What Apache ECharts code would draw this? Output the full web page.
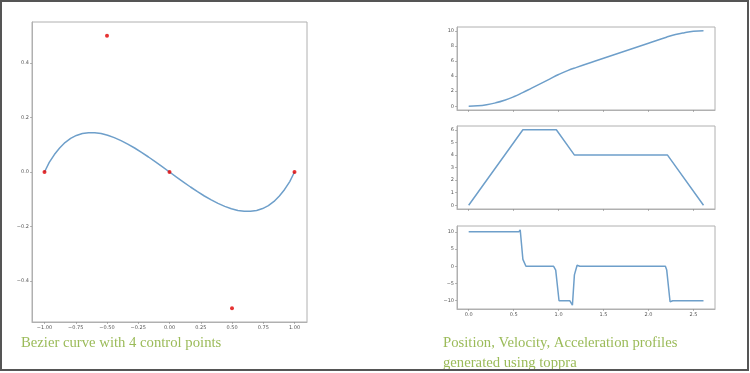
<!DOCTYPE html>
<html>
<head>
<meta charset="utf-8">
<script src="https://cdn.jsdelivr.net/npm/echarts@6/dist/echarts.min.js"></script>
<style>html,body{margin:0;padding:0;background:#fff}#c{width:750px;height:373px}</style>
</head>
<body>
<div id="c"></div>
<script>
// Bezier curve samples
const bezX = [-1, -0.962, -0.921, -0.879, -0.836, -0.791, -0.745, -0.697, -0.648, -0.598, -0.547, -0.495, -0.442, -0.388, -0.334, -0.279, -0.224, -0.168, -0.112, -0.056, 0,
              0.056, 0.112, 0.168, 0.224, 0.279, 0.334, 0.388, 0.442, 0.495, 0.547, 0.598, 0.648, 0.697, 0.745, 0.791, 0.836, 0.879, 0.921, 0.962, 1];
const bezY = [0, 0.035, 0.064, 0.088, 0.108, 0.123, 0.134, 0.141, 0.144, 0.144, 0.141, 0.135, 0.126, 0.115, 0.102, 0.088, 0.072, 0.055, 0.037, 0.019, 0,
              -0.019, -0.037, -0.055, -0.072, -0.088, -0.102, -0.115, -0.126, -0.135, -0.141, -0.144, -0.144, -0.141, -0.134, -0.123, -0.108, -0.088, -0.064, -0.035, 0];
// Control points
const ctrlX = [-1, -0.5, 0, 0.5, 1];
const ctrlY = [0, 0.5, 0, -0.5, 0];
// Position profile
const posT = [0, 0.1, 0.2, 0.3, 0.4, 0.5, 0.6, 0.7, 0.8, 0.9, 1.0, 1.1, 1.2, 1.4, 1.6, 1.8, 2.0, 2.2, 2.3, 2.4, 2.5, 2.612];
const posV = [0, 0.05, 0.2, 0.45, 0.8, 1.25, 1.8, 2.4, 3.0, 3.6, 4.2, 4.72, 5.15, 5.95, 6.75, 7.55, 8.35, 9.15, 9.5, 9.75, 9.93, 10.0];
// Velocity profile
const velT = [0, 0.603, 0.975, 1.175, 2.21, 2.612];
const velV = [0, 6, 6, 4, 4, 0];
// Acceleration profile
const accT = [0, 0.558, 0.573, 0.603, 0.637, 0.945, 0.968, 1.005, 1.124, 1.154, 1.176, 1.206, 1.236, 2.188, 2.203, 2.240, 2.270, 2.612];
const accV = [10, 10, 10.6, 2.0, 0, 0, -1.1, -10, -10, -11.3, -2.5, 0.3, 0, 0, -1.1, -10.3, -10, -10];
// Tick labels
const bezXTicks = [-1, -0.75, -0.5, -0.25, 0, 0.25, 0.5, 0.75, 1];
const bezYTicks = [-0.4, -0.2, 0, 0.2, 0.4];
const timeTicks = [0, 0.5, 1, 1.5, 2, 2.5];
const posTicks = [0, 2, 4, 6, 8, 10];
const velTicks = [0, 1, 2, 3, 4, 5, 6];
const accTicks = [-10, -5, 0, 5, 10];
const caption1 = 'Bezier curve with 4 control points';
const caption2 = 'Position, Velocity, Acceleration profiles\ngenerated using toppra';

const zip = (a, b) => a.map((v, i) => [v, b[i]]);
const minus = s => s.replace('-', '\u2212');
const LINE = '#6e9fca';
const FRAME = '#b0b0b0';
const lblStyle = {fontSize: 5, color: '#555', fontFamily: 'DejaVu Sans', margin: 3};

function axis(gi, min, max, ticks, fmt, showLabels) {
  return {
    gridIndex: gi, type: 'value', min: min, max: max,
    axisLine: {show: true, onZero: false, lineStyle: {color: FRAME, width: 1}},
    axisTick: {show: true, length: 2, customValues: ticks, lineStyle: {color: '#888', width: 0.6}},
    axisLabel: Object.assign({show: showLabels, customValues: ticks, formatter: v => minus(fmt(v))}, lblStyle),
    splitLine: {show: false}
  };
}

const chart = echarts.init(document.getElementById('c'), null, {renderer: 'canvas'});
const gridBase = {show: true, borderColor: FRAME, borderWidth: 1, backgroundColor: '#fff', containLabel: false};
const capStyle = {fontFamily: 'Liberation Serif', fontSize: 14.7, fontWeight: 'normal', color: '#9bbb59', lineHeight: 20};
chart.setOption({
  animation: false,
  backgroundColor: '#fff',
  title: [
    {text: caption1, left: 21, top: 333, padding: 0, textStyle: capStyle},
    {text: caption2, left: 443, top: 333, padding: 0, textStyle: capStyle}
  ],
  graphic: [{type: 'rect', shape: {x: 1, y: 1, width: 747, height: 369}, style: {fill: 'none', stroke: '#555', lineWidth: 2}, z: 100}],
  grid: [
    Object.assign({left: 32, top: 22, width: 275, height: 300}, gridBase),
    Object.assign({left: 457, top: 27, width: 258, height: 83}, gridBase),
    Object.assign({left: 457, top: 126, width: 258, height: 83}, gridBase),
    Object.assign({left: 457, top: 226, width: 258, height: 83}, gridBase)
  ],
  xAxis: [
    axis(0, -1.1, 1.1, bezXTicks, v => v.toFixed(2), true),
    axis(1, -0.13, 2.74, timeTicks, v => v.toFixed(1), false),
    axis(2, -0.13, 2.74, timeTicks, v => v.toFixed(1), false),
    axis(3, -0.13, 2.74, timeTicks, v => v.toFixed(1), true)
  ],
  yAxis: [
    axis(0, -0.55, 0.55, bezYTicks, v => v.toFixed(1), true),
    axis(1, -0.5, 10.5, posTicks, v => String(v), true),
    axis(2, -0.3, 6.3, velTicks, v => String(v), true),
    axis(3, -12.4, 11.7, accTicks, v => String(v), true)
  ],
  series: [
    {type: 'line', xAxisIndex: 0, yAxisIndex: 0, data: zip(bezX, bezY), showSymbol: false, lineStyle: {color: LINE, width: 1.5}},
    {type: 'scatter', xAxisIndex: 0, yAxisIndex: 0, data: zip(ctrlX, ctrlY), symbolSize: 4, itemStyle: {color: '#e00000'}, z: 5},
    {type: 'line', xAxisIndex: 1, yAxisIndex: 1, data: zip(posT, posV), smooth: true, showSymbol: false, lineStyle: {color: LINE, width: 1.5}},
    {type: 'line', xAxisIndex: 2, yAxisIndex: 2, data: zip(velT, velV), showSymbol: false, lineStyle: {color: LINE, width: 1.5}},
    {type: 'line', xAxisIndex: 3, yAxisIndex: 3, data: zip(accT, accV), showSymbol: false, lineStyle: {color: LINE, width: 1.5}}
  ]
});
</script>
</body>
</html>
